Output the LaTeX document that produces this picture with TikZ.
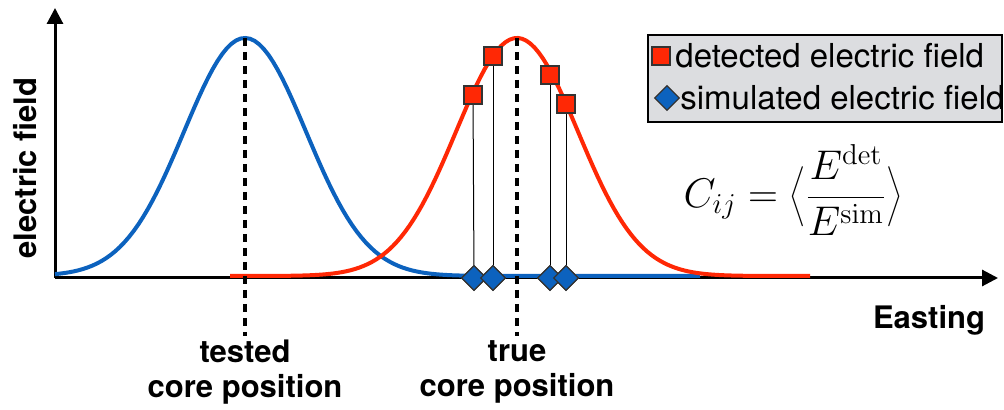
\documentclass[tikz,border=0pt]{standalone}
\usepackage[no-math]{fontspec}
\setmainfont{TeX Gyre Heros}
\usetikzlibrary{arrows.meta, shapes.geometric}

\definecolor{fieldblue}{RGB}{12,98,190}
\definecolor{fieldred}{RGB}{255,40,5}
\definecolor{legendgray}{RGB}{220,221,224}

\begin{document}
\begin{tikzpicture}[
  x={(0.5pt,0)}, y={(0,-0.5pt)},
  axis/.style={line width=1.5pt, -{Triangle[length=8pt, width=8pt]}},
  curve/.style={line width=2pt},
  core/.style={line width=2pt, dash pattern=on 4pt off 3pt},
  lab/.style={align=center, font=\fontsize{15.5}{17.5}\selectfont\bfseries},
  det/.style={draw=black!80, fill=fieldred, minimum size=9pt, inner sep=0pt, line width=0.6pt},
  sim/.style={diamond, draw=black!80, fill=fieldblue, minimum size=12.5pt, inner sep=0pt, line width=0.6pt},
  drop/.style={line width=0.5pt},
  leg/.style={anchor=west, inner sep=0pt, font=\fontsize{16.5}{18}\selectfont}
]
\useasboundingbox (0,0) rectangle (1004,410);

% axes
\coordinate (origin) at (55,278);
\coordinate (ytip) at (55,8);
\coordinate (xtip) at (998,278);
\draw[axis] (origin) -- (ytip);
\draw[axis] (origin) -- (xtip);

% field profiles
\draw[curve, fieldblue] plot[domain=55:700, samples=140]
  (\x, {276-238*exp(-0.5*((\x-245)/61)^2)});
\draw[curve, fieldred] plot[domain=230:810, samples=140]
  (\x, {276-238*exp(-0.5*((\x-517)/61)^2)});

% core positions
\coordinate (tested top) at (245,38);
\coordinate (tested bot) at (245,336);
\coordinate (true top) at (517,38);
\coordinate (true bot) at (517,336);
\draw[core] (tested top) -- (tested bot);
\draw[core] (true top) -- (true bot);

% detector measurements
\node[sim] (s1) at (474,278) {};
\node[sim] (s2) at (493,278) {};
\node[sim] (s3) at (550,278) {};
\node[sim] (s4) at (566,278) {};
\node[det] (d1) at (473,95) {};
\node[det] (d2) at (493,56) {};
\node[det] (d3) at (550,75) {};
\node[det] (d4) at (566,104) {};
\draw[drop] (d1) -- (s1);
\draw[drop] (d2) -- (s2);
\draw[drop] (d3) -- (s3);
\draw[drop] (d4) -- (s4);
\foreach \i in {1,...,4} {
  \node[sim] at (s\i) {};
  \node[det] at (d\i) {};
}

% labels
\node[lab, rotate=90] (ylab) at (25,168) {electric field};
\node[lab] (xlab) at (929,320) {Easting};
\node[lab] (tested) at (245,372) {tested\\core position};
\node[lab] (true) at (517,372) {true\\core position};

% legend
\node[draw, line width=1pt, fill=legendgray, minimum width=177pt, minimum height=43.5pt,
      inner sep=0pt] (legend) at (825,78.5) {};
\node[det] (ldet) at (661,56) {};
\node[leg] (ldettxt) at (675,56) {detected electric field};
\node[sim] (lsim) at (667,98) {};
\node[leg] (lsimtxt) at (680,98) {simulated electric field};

% correction factor
\node[font=\fontsize{20}{24}\selectfont] (cij) at (793,190)
  {$\displaystyle C_{ij} = \left\langle \frac{E^{\mathrm{det}}}{E^{\mathrm{sim}}} \right\rangle$};
\end{tikzpicture}
\end{document}
